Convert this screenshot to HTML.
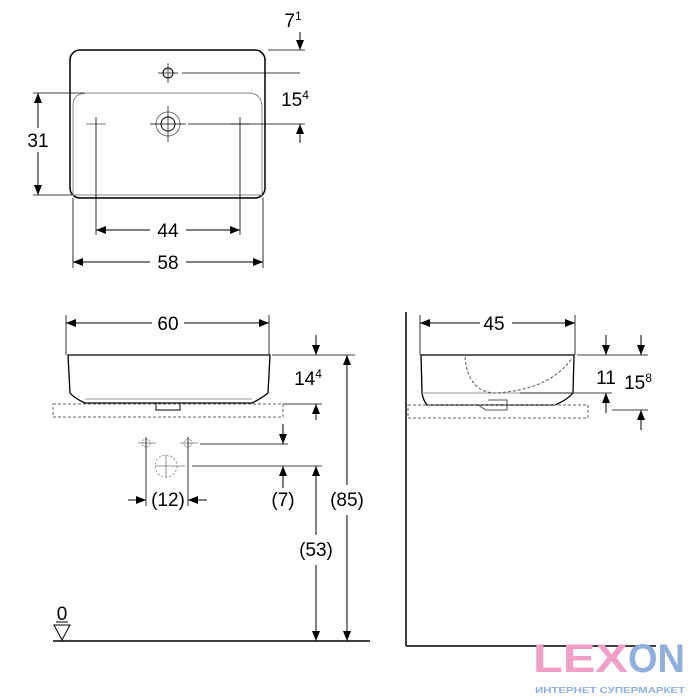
<!DOCTYPE html>
<html><head><meta charset="utf-8"><style>html,body{margin:0;padding:0;background:#fff}svg{display:block}</style></head>
<body>
<svg width="700" height="700" viewBox="0 0 700 700" xmlns="http://www.w3.org/2000/svg" font-family="Liberation Sans, sans-serif">
<defs>
<marker id="a" markerWidth="10" markerHeight="8" refX="10" refY="4" orient="auto" markerUnits="userSpaceOnUse"><path d="M0,0 L10,4 L0,8 Z" fill="#000"/></marker>
</defs>
<g fill="none" stroke="#000" stroke-width="1">
<rect x="70" y="50" width="195" height="148" rx="10" stroke-width="1.5"/>
<path d="M73,196 L73,105 Q73,93 88,93 L248,93 Q262,93 262,108 L262,194" stroke="#888"/>
<line x1="74" y1="195" x2="262" y2="195" stroke="#888"/>
<circle cx="168" cy="73" r="5"/><line x1="158" y1="73" x2="178" y2="73" stroke-width="0.7"/><line x1="168" y1="63" x2="168" y2="83" stroke-width="0.7"/>
<circle cx="168" cy="124" r="12" stroke="#777"/><circle cx="168" cy="124" r="7"/>
<line x1="150" y1="124" x2="186" y2="124" stroke-width="0.7"/><line x1="168" y1="106" x2="168" y2="142" stroke-width="0.7"/>
<line x1="86" y1="124" x2="106" y2="124" stroke="#777"/><line x1="230" y1="124" x2="250" y2="124" stroke="#777"/>
<line x1="96" y1="117" x2="96" y2="235" stroke-width="0.8"/><line x1="240" y1="117" x2="240" y2="235" stroke-width="0.8"/>
<line x1="73" y1="198" x2="73" y2="268" stroke-width="0.8"/><line x1="263" y1="198" x2="263" y2="268" stroke-width="0.8"/>
<line x1="33" y1="93" x2="85" y2="93" stroke-width="0.8"/><line x1="33" y1="195" x2="72" y2="195" stroke-width="0.8"/>
<line x1="38" y1="128" x2="38" y2="93" marker-end="url(#a)"/><line x1="38" y1="152" x2="38" y2="195" marker-end="url(#a)"/>
<line x1="150" y1="230" x2="96" y2="230" marker-end="url(#a)"/><line x1="186" y1="230" x2="240" y2="230" marker-end="url(#a)"/>
<line x1="150" y1="262" x2="73" y2="262" marker-end="url(#a)"/><line x1="186" y1="262" x2="263" y2="262" marker-end="url(#a)"/>
<line x1="268" y1="50" x2="305" y2="50" stroke-width="0.8"/><line x1="300" y1="32" x2="300" y2="50" marker-end="url(#a)"/>
<line x1="182" y1="73" x2="300" y2="73" stroke-width="0.8"/>
<line x1="188" y1="124" x2="305" y2="124" stroke-width="0.8"/><line x1="300" y1="143" x2="300" y2="124" marker-end="url(#a)"/>
<line x1="66" y1="315" x2="66" y2="355" stroke-width="0.8"/><line x1="269" y1="315" x2="269" y2="355" stroke-width="0.8"/>
<line x1="152" y1="323" x2="66" y2="323" marker-end="url(#a)"/><line x1="184" y1="323" x2="269" y2="323" marker-end="url(#a)"/>
<path d="M68,355 L270,355 L268,393 Q262,398 252,403 L85,403 Q74,398 70,393 Z" stroke-width="1.3"/>
<line x1="85" y1="399" x2="252" y2="399" stroke="#999"/>
<rect x="156" y="403" width="24" height="7"/>
<rect x="53" y="404" width="230" height="13" stroke-dasharray="3,2" stroke="#666"/>
<line x1="272" y1="355" x2="355" y2="355" stroke-width="0.8"/>
<line x1="316" y1="335" x2="316" y2="355" marker-end="url(#a)"/>
<line x1="283" y1="404" x2="322" y2="404" stroke-width="0.8"/>
<line x1="316" y1="420" x2="316" y2="404" marker-end="url(#a)"/>
<line x1="283" y1="424" x2="283" y2="444" marker-end="url(#a)"/>
<line x1="200" y1="444" x2="288" y2="444" stroke-width="0.8"/>
<g stroke="#777" stroke-width="0.8">
<line x1="138" y1="443" x2="156" y2="443"/><circle cx="146" cy="443" r="4" stroke-dasharray="2,1"/>
<line x1="180" y1="443" x2="198" y2="443"/><circle cx="188" cy="443" r="4" stroke-dasharray="2,1"/>
<circle cx="166" cy="466" r="11" stroke-dasharray="2,2"/><line x1="155" y1="466" x2="185" y2="466"/><line x1="166" y1="455" x2="166" y2="478"/>
</g>
<line x1="146" y1="437" x2="146" y2="506" stroke-width="0.8"/><line x1="188" y1="437" x2="188" y2="506" stroke-width="0.8"/>
<line x1="192" y1="466" x2="322" y2="466" stroke-width="0.8"/>
<line x1="128" y1="500" x2="146" y2="500" marker-end="url(#a)"/><line x1="207" y1="500" x2="188" y2="500" marker-end="url(#a)"/>
<line x1="283" y1="488" x2="283" y2="466" marker-end="url(#a)"/>
<line x1="316" y1="535" x2="316" y2="466" marker-end="url(#a)"/><line x1="316" y1="565" x2="316" y2="641" marker-end="url(#a)"/>
<line x1="347" y1="485" x2="347" y2="355" marker-end="url(#a)"/><line x1="347" y1="515" x2="347" y2="641" marker-end="url(#a)"/>
<line x1="53" y1="641" x2="370" y2="641" stroke-width="1.5"/>
<path d="M54,625 L70,625 L62,640 Z"/><line x1="56" y1="622" x2="68" y2="622"/>
<line x1="406" y1="312" x2="406" y2="646" stroke-width="1.5"/><line x1="406" y1="646" x2="656" y2="646" stroke-width="1.5"/>
<line x1="420" y1="315" x2="420" y2="355" stroke-width="0.8"/><line x1="575" y1="315" x2="575" y2="355" stroke-width="0.8"/>
<line x1="480" y1="323" x2="420" y2="323" marker-end="url(#a)"/><line x1="512" y1="323" x2="575" y2="323" marker-end="url(#a)"/>
<path d="M421,355 L574,355 L573,393 Q567,400 555,405 L427,405 Q423,400 422,393 Z" stroke-width="1.3"/>
<line x1="422" y1="393" x2="573" y2="393" stroke="#999"/>
<path d="M465,357 Q468,392 495,393 Q550,390 572,358" stroke-dasharray="3,2" stroke="#555"/>
<path d="M478,405 L486,410 L507,410 L507,400 L488,400" stroke="#555"/>
<rect x="408" y="405" width="180" height="13" stroke-dasharray="3,2" stroke="#666"/>
<line x1="577" y1="355" x2="648" y2="355" stroke-width="0.8"/>
<line x1="606" y1="335" x2="606" y2="355" marker-end="url(#a)"/><line x1="641" y1="335" x2="641" y2="355" marker-end="url(#a)"/>
<line x1="520" y1="393" x2="612" y2="393" stroke-width="0.8"/><line x1="606" y1="413" x2="606" y2="393" marker-end="url(#a)"/>
<line x1="612" y1="410" x2="648" y2="410" stroke-width="0.8"/><line x1="641" y1="430" x2="641" y2="410" marker-end="url(#a)"/>
</g>
<g font-size="19" fill="#000" text-anchor="middle">
<text x="38" y="147">31</text>
<text x="168" y="237">44</text>
<text x="168" y="269">58</text>
<text x="293" y="27">7<tspan font-size="12" dy="-7">1</tspan></text>
<text x="295" y="106">15<tspan font-size="12" dy="-7">4</tspan></text>
<text x="168" y="330">60</text>
<text x="308" y="385">14<tspan font-size="12" dy="-7">4</tspan></text>
<text x="168" y="506">(12)</text>
<text x="283" y="506">(7)</text>
<text x="347" y="506">(85)</text>
<text x="316" y="556">(53)</text>
<text x="62" y="620">0</text>
<text x="494" y="330">45</text>
<text x="606" y="384">11</text>
<text x="638" y="389">15<tspan font-size="12" dy="-7">8</tspan></text>
</g>
<g font-weight="bold" font-size="40">
<text x="533" y="672" fill="#f0a0c8" textLength="95" lengthAdjust="spacingAndGlyphs">LEX</text>
<text x="628" y="672" fill="#8fb0dc" textLength="57" lengthAdjust="spacingAndGlyphs">ON</text>
</g>
<text x="535" y="693" font-size="8.5" font-weight="bold" fill="#8fb0dc" textLength="150" lengthAdjust="spacingAndGlyphs">ИНТЕРНЕТ СУПЕРМАРКЕТ</text>
</svg>
</body></html>
